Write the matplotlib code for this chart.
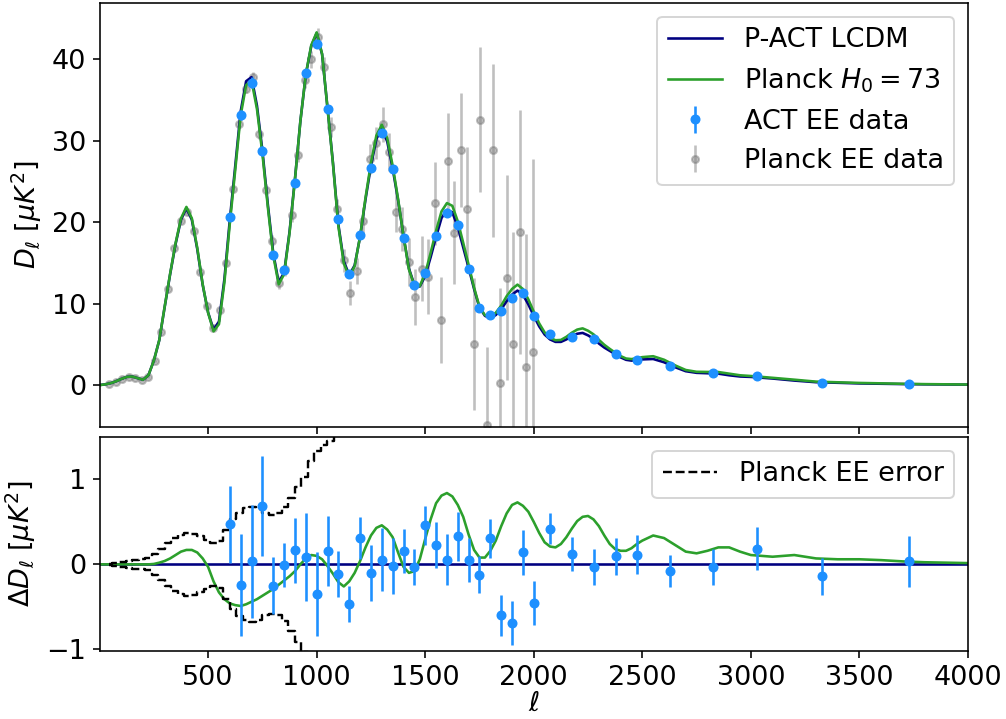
import matplotlib
matplotlib.use('Agg')
import matplotlib.pyplot as plt
import numpy as np

plt.rcParams['font.size'] = 13.5

# theory curves sampled off the plot (common ell grid)
ell_th = [0, 25, 50, 75, 100, 125, 150, 175, 200, 225, 250, 275, 300, 325, 350, 375,
          400, 425, 450, 475, 500, 525, 550, 575, 600, 625, 650, 675, 700, 725, 750, 775,
          800, 825, 850, 875, 900, 925, 950, 975, 1000, 1025, 1050, 1075, 1100, 1125, 1150, 1175,
          1200, 1225, 1250, 1275, 1300, 1325, 1350, 1375, 1400, 1425, 1450, 1475, 1500, 1525, 1550, 1575,
          1600, 1625, 1650, 1675, 1700, 1725, 1750, 1775, 1800, 1825, 1850, 1875, 1900, 1925, 1950, 1975,
          2000, 2025, 2050, 2075, 2100, 2125, 2150, 2175, 2200, 2225, 2250, 2275, 2300, 2325, 2350, 2375,
          2400, 2425, 2450, 2475, 2500, 2550, 2600, 2650, 2700, 2750, 2800, 2850, 2900, 2950, 3000,
          3100, 3200, 3300, 3400, 3500, 3600, 3700, 3800, 3900, 4000]
dl_lcdm = [0.0, 0.08, 0.22, 0.45, 0.75, 1.0, 1.05, 0.85, 0.65, 1.2, 3.0, 5.5, 9.6, 13.6, 17.3, 20.3,
           21.7, 20.3, 16.7, 12.3, 8.9, 6.8, 7.8, 13.0, 20.3, 26.9, 33.6, 37.3, 37.8, 34.3, 28.8, 22.2,
           16.2, 12.6, 13.8, 18.8, 25.3, 32.4, 38.1, 41.6, 43.2, 40.6, 34.0, 27.3, 19.7, 15.2, 13.5, 14.7,
           18.2, 22.8, 26.9, 30.2, 31.5, 29.9, 26.6, 22.7, 18.3, 14.3, 12.3, 12.1, 13.4, 15.7, 18.2, 20.5,
           21.5, 21.2, 19.4, 16.9, 14.4, 11.8, 9.5, 8.5, 8.2, 8.6, 9.3, 10.3, 11.1, 11.6, 11.1, 9.9,
           8.5, 7.2, 6.2, 5.6, 5.3, 5.3, 5.6, 6.0, 6.3, 6.4, 6.1, 5.7, 5.1, 4.6, 4.2, 3.8,
           3.4, 3.1, 3.0, 3.05, 3.15, 3.2, 2.8, 2.2, 1.7, 1.5, 1.45, 1.4, 1.2, 1.05, 1.0,
           0.8, 0.55, 0.35, 0.28, 0.2, 0.16, 0.12, 0.09, 0.07, 0.05]
dl_diff = [0.0, 0.0, 0.0, 0.0, 0.0, 0.0, 0.0, 0.0, 0.0, 0.0, 0.005, 0.02, 0.04, 0.07, 0.11, 0.15,
           0.17, 0.17, 0.14, 0.07, -0.03, -0.2, -0.33, -0.41, -0.46, -0.48, -0.49, -0.47, -0.44, -0.41, -0.37, -0.33,
           -0.29, -0.24, -0.19, -0.14, -0.08, 0.0, 0.07, 0.11, 0.10, 0.06, -0.02, -0.11, -0.21, -0.26, -0.2, -0.1,
           0.04, 0.2, 0.34, 0.43, 0.46, 0.41, 0.32, 0.14, -0.03, -0.1, -0.08, 0.06, 0.3, 0.53, 0.72, 0.81,
           0.84, 0.8, 0.7, 0.56, 0.35, 0.17, 0.08, 0.08, 0.16, 0.28, 0.45, 0.6, 0.7, 0.73, 0.69, 0.62,
           0.5, 0.37, 0.26, 0.21, 0.2, 0.24, 0.32, 0.42, 0.51, 0.56, 0.57, 0.53, 0.45, 0.34, 0.24, 0.18,
           0.16, 0.16, 0.19, 0.24, 0.28, 0.34, 0.31, 0.23, 0.15, 0.13, 0.16, 0.2, 0.2, 0.15, 0.11,
           0.09, 0.11, 0.07, 0.06, 0.06, 0.05, 0.035, 0.025, 0.02, 0.015]

# Planck EE binned data (dl = 30)
ell_planck = [44.5, 74.5, 104.5, 134.5, 164.5, 194.5, 224.5, 254.5, 284.5, 314.5, 344.5,
              374.5, 404.5, 434.5, 464.5, 494.5, 524.5, 554.5, 584.5, 614.5, 644.5, 674.5,
              704.5, 734.5, 764.5, 794.5, 824.5, 854.5, 884.5, 914.5, 944.5, 974.5, 1004.5,
              1034.5, 1064.5, 1094.5, 1124.5, 1154.5, 1184.5, 1214.5, 1244.5, 1274.5, 1304.5,
              1334.5, 1364.5, 1394.5, 1424.5, 1454.5, 1484.5, 1514.5, 1544.5, 1574.5, 1604.5,
              1634.5, 1664.5, 1694.5, 1724.5, 1754.5, 1784.5, 1814.5, 1844.5, 1874.5, 1904.5,
              1934.5, 1964.5, 1994.5]
dl_planck = [0.12, 0.4, 0.74, 1.0, 0.9, 0.6, 1.0, 2.9, 6.5, 11.8, 16.8,
             20.2, 21.2, 18.9, 13.9, 9.7, 7.0, 9.2, 15.0, 24.1, 32.1, 36.4,
             37.8, 30.8, 24.0, 17.7, 12.55, 14.2, 20.9, 28.3, 37.5, 40.0, 42.7,
             39.1, 31.7, 21.6, 15.3, 11.3, 14.0, 20.2, 27.7, 29.7, 32.0,
             28.6, 21.2, 19.1, 15.1, 10.8, 14.3, 13.3, 22.3, 8.0, 27.5,
             18.7, 28.9, 21.6, 5.0, 32.6, -4.9, 28.8, 0.3, 13.2, 5.0,
             18.8, 2.2, 4.0]
err_planck = [0.05, 0.06, 0.07, 0.08, 0.08, 0.09, 0.1, 0.12, 0.14, 0.17, 0.2,
              0.23, 0.25, 0.26, 0.28, 0.3, 0.32, 0.36, 0.4, 0.45, 0.5, 0.55,
              0.6, 0.65, 0.7, 0.75, 0.8, 0.85, 0.9, 0.95, 1.0, 1.05, 1.1,
              1.15, 1.2, 1.3, 1.4, 1.5, 1.6, 1.7, 1.85, 2.0, 2.15,
              2.3, 2.45, 2.7, 3.0, 3.4, 4.0, 4.6, 5.1, 5.3, 5.9,
              6.3, 7.0, 7.6, 8.1, 8.9, 9.6, 10.6, 11.6, 12.6, 13.8,
              15.0, 16.4, 23.7]

# Planck EE error band for the residual panel
ell_perr = [44.5, 74.5, 104.5, 134.5, 164.5, 194.5, 224.5, 254.5, 284.5, 314.5, 344.5,
            374.5, 404.5, 434.5, 464.5, 494.5, 524.5, 554.5, 584.5, 614.5, 644.5, 674.5,
            704.5, 734.5, 764.5, 794.5, 824.5, 854.5, 884.5, 914.5, 944.5, 974.5, 1004.5,
            1034.5, 1064.5, 1094.5, 1124.5, 1154.5]
perr = [0.01, 0.02, 0.03, 0.04, 0.05, 0.06, 0.07, 0.12, 0.18, 0.25, 0.31,
        0.35, 0.37, 0.36, 0.33, 0.29, 0.25, 0.28, 0.41, 0.53, 0.61, 0.66,
        0.68, 0.65, 0.60, 0.58, 0.60, 0.67, 0.78, 0.91, 1.03, 1.22, 1.33,
        1.40, 1.45, 1.55, 1.65, 1.8]

# ACT EE bandpowers
ell_act = [600, 650, 700, 750, 800, 850, 900, 950, 1000, 1050, 1100, 1150, 1200, 1250,
           1300, 1350, 1400, 1450, 1500, 1550, 1600, 1650, 1700, 1750, 1800, 1850, 1900,
           1950, 2000, 2077, 2177, 2277, 2377, 2477, 2627, 2827, 3027, 3327, 3727]
dl_act = [20.6, 33.2, 37.1, 28.7, 16.0, 14.1, 24.8, 38.3, 41.9, 33.9, 20.4, 13.6, 18.4, 26.7,
          31.0, 26.5, 18.1, 12.3, 13.7, 18.3, 21.1, 19.7, 14.2, 9.5, 8.6, 9.1, 10.7,
          11.25, 8.5, 6.3, 5.9, 5.7, 3.8, 3.07, 2.37, 1.43, 1.1, 0.29, 0.12]
res_act = [0.47, -0.24, 0.035, 0.69, -0.25, -0.01, 0.165, 0.09, -0.35, 0.16, -0.11, -0.47, 0.31, -0.1,
           0.055, -0.02, 0.16, -0.03, 0.46, 0.23, 0.055, 0.33, 0.055, -0.12, 0.31, -0.6, -0.69,
           0.14, -0.45, 0.42, 0.125, -0.03, 0.095, 0.115, -0.08, -0.03, 0.185, -0.14, 0.035]
err_act = [0.45, 0.6, 0.67, 0.59, 0.34, 0.26, 0.38, 0.52, 0.49, 0.41, 0.27, 0.21, 0.25, 0.33,
           0.37, 0.33, 0.26, 0.21, 0.23, 0.27, 0.3, 0.29, 0.26, 0.22, 0.23, 0.24, 0.26,
           0.27, 0.26, 0.18, 0.2, 0.21, 0.22, 0.23, 0.19, 0.21, 0.25, 0.22, 0.3]

ell_th = np.array(ell_th)
dl_lcdm = np.array(dl_lcdm)
dl_diff = np.array(dl_diff)
perr = np.array(perr)

fig = plt.figure(figsize=(1006 / 144, 719 / 144), dpi=144)
ax1 = fig.add_axes([0.0994, 0.4061, 0.8628, 0.5897])
ax2 = fig.add_axes([0.0994, 0.0946, 0.8628, 0.2976], sharex=ax1)

# top: spectra
ax1.plot(ell_th, dl_lcdm, color='navy', lw=1.3, label='P-ACT LCDM')
ax1.plot(ell_th, dl_lcdm + dl_diff, color='tab:green', lw=1.3, label='Planck $H_0 = 73$')
ax1.errorbar(ell_act, dl_act, yerr=err_act, fmt='o', color='dodgerblue', ms=4,
             elinewidth=1.3, label='ACT EE data', zorder=4)
ax1.errorbar(ell_planck, dl_planck, yerr=err_planck, fmt='o', color='gray', alpha=0.5,
             ms=3.5, elinewidth=1.3, label='Planck EE data', zorder=1)
ax1.set_ylabel(r'$D_\ell$ [$\mu K^2$]')
ax1.set_ylim(-5.15, 46.9)
ax1.set_xlim(2, 4000)
ax1.tick_params(labelbottom=False)
ax1.legend(loc='upper right')

# bottom: residuals
ax2.plot(ell_th, np.zeros_like(dl_lcdm), color='navy', lw=1.3)
ax2.plot(ell_th, dl_diff, color='tab:green', lw=1.3)
ax2.errorbar(ell_act, res_act, yerr=err_act, fmt='o', color='dodgerblue', ms=4,
             elinewidth=1.3, zorder=4)
ax2.plot(ell_perr, perr, color='black', ls='--', lw=1.2, drawstyle='steps-mid',
         label='Planck EE error')
ax2.plot(ell_perr, -perr, color='black', ls='--', lw=1.2, drawstyle='steps-mid')
ax2.set_ylim(-1.02, 1.5)
ax2.set_xticks([500, 1000, 1500, 2000, 2500, 3000, 3500, 4000])
ax2.set_xlabel(r'$\ell$', labelpad=0)
ax2.set_ylabel(r'$\Delta D_\ell$ [$\mu K^2$]')
ax2.legend(loc='upper right')

fig.align_ylabels([ax1, ax2])
plt.savefig('out.png', dpi=144, facecolor='white')
plt.close()
